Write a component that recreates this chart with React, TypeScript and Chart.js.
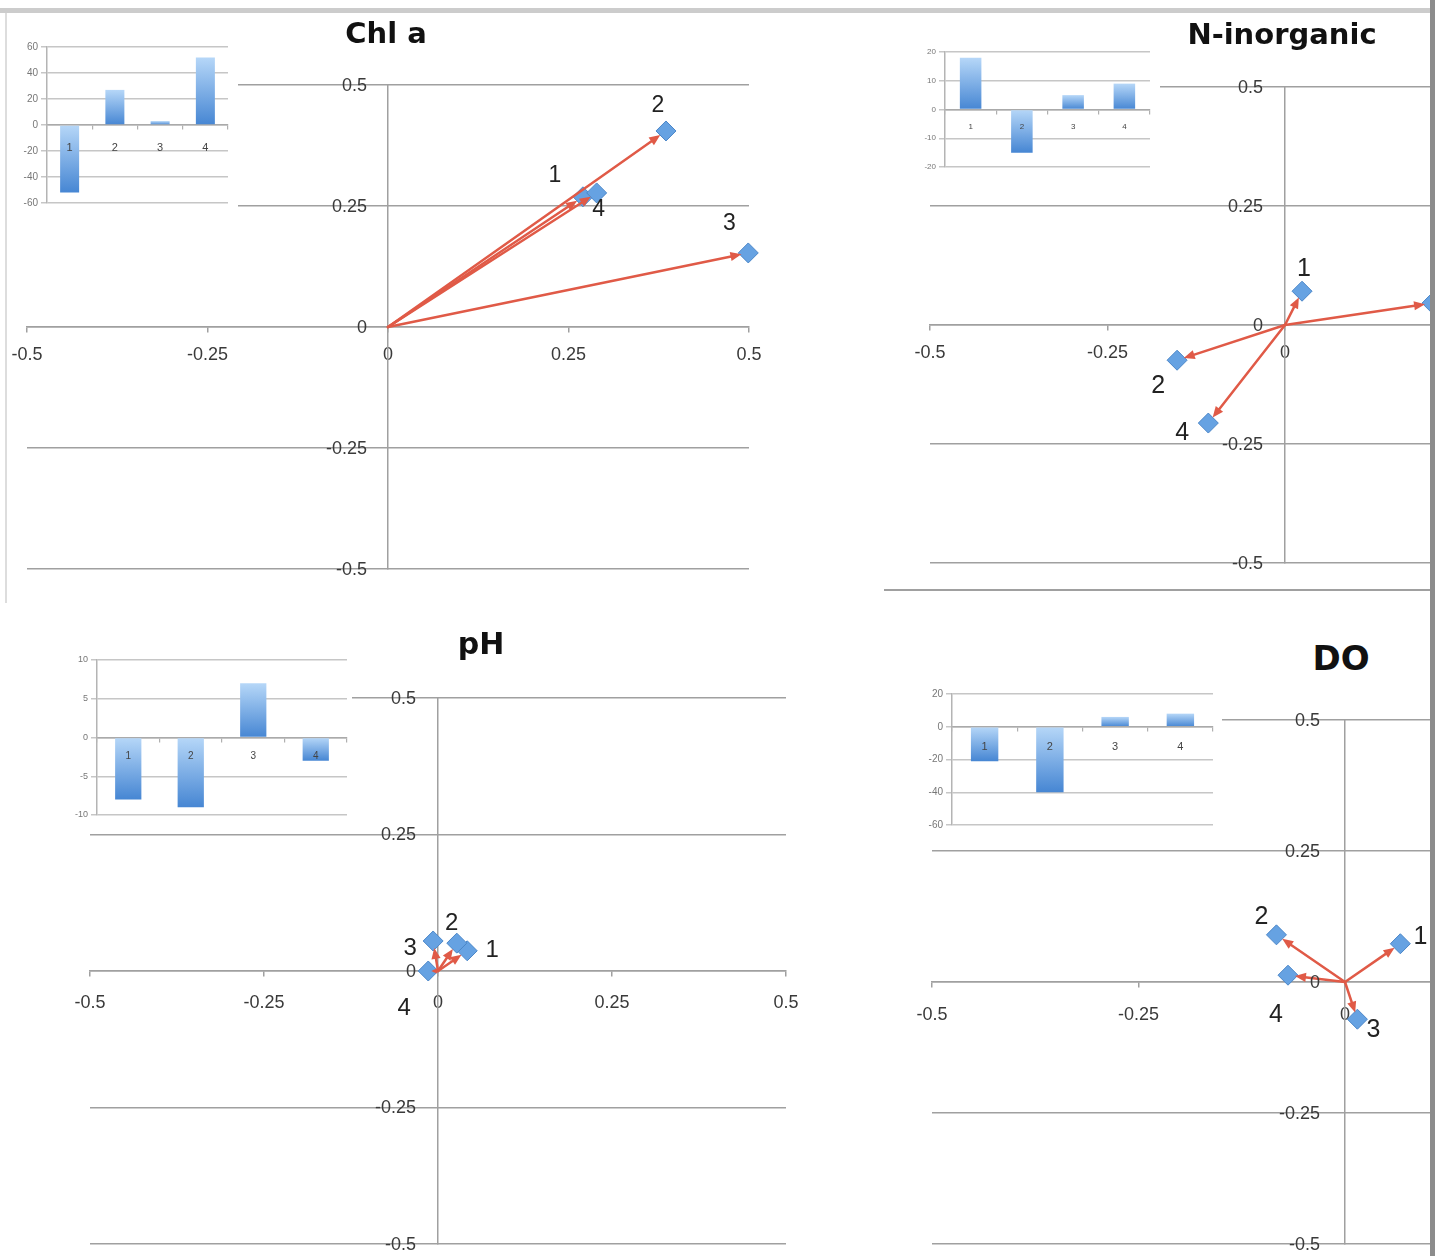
import React, { useEffect, useRef } from 'react';
import { Chart, registerables } from 'chart.js';
Chart.register(...registerables);

// ---------- data ----------
const pointLabels = ['1', '2', '3', '4'];
const barCategories = ['1', '2', '3', '4'];
const axisTicks = [-0.5, -0.25, 0, 0.25, 0.5];

const chlX = [0.27, 0.385, 0.499, 0.289];
const chlY = [0.269, 0.405, 0.153, 0.277];
const chlBars = [-52, 27, 3, 52];
const chlBarTicks = [-60, -40, -20, 0, 20, 40, 60];

const nX = [0.024, -0.152, 0.207, -0.108];
const nY = [0.071, -0.074, 0.046, -0.206];
const nBars = [18, -15, 5, 9];
const nBarTicks = [-20, -10, 0, 10, 20];

const phX = [0.042, 0.027, -0.007, -0.014];
const phY = [0.037, 0.051, 0.055, 0.0];
const phBars = [-8, -9, 7, -3];
const phBarTicks = [-10, -5, 0, 5, 10];

const doX = [0.067, -0.083, 0.015, -0.069];
const doY = [0.073, 0.09, -0.071, 0.013];
const doBars = [-21, -40, 6, 8];
const doBarTicks = [-60, -40, -20, 0, 20];

// ---------- styles ----------
const GRID = '#a0a0a0';
const ARROW = '#E05A47';
const TICK_FONT = 'Liberation Sans';
const TICK_COLOR = '#3a3a3a';

const chlLabelOffsets = [[-28, -21], [-8, -25], [-19, -29], [2, 17]];
const nLabelOffsets = [[2, -22], [-19, 26], [15, -25], [-26, 10]];
const phLabelOffsets = [[25, 0], [-5, -20], [-23, 7], [-24, 37]];
const doLabelOffsets = [[20, -7], [-15, -18], [16, 11], [-12, 40]];

const PAD = { l: 40, r: 40, t: 20, b: 40 };

const panels = [
  {
    key: 'chl', title: 'Chl a', titleX: 386, titleY: 33, titleSize: 29,
    xs: chlX, ys: chlY, offsets: chlLabelOffsets, labelSize: 23,
    area: { l: 27, r: 749, t: 85, b: 569 }, xPad: 12, yGap: 21,
    bars: chlBars, barTicks: chlBarTicks,
    box: { l: 0, t: 38, r: 238, b: 218 }, plot: { l: 47, t: 47, r: 228, b: 203 },
    yW: 40, barFont: 10, catFont: 11, catPad: 12,
  },
  {
    key: 'n', title: 'N-inorganic', titleX: 1282, titleY: 34, titleSize: 29,
    xs: nX, ys: nY, offsets: nLabelOffsets, labelSize: 25,
    area: { l: 930, r: 1640, t: 87, b: 563 }, xPad: 12, yGap: 22,
    bars: nBars, barTicks: nBarTicks,
    box: { l: 905, t: 40, r: 1160, b: 188 }, plot: { l: 945, t: 52, r: 1150, b: 167 },
    yW: 30, barFont: 8, catFont: 8, catPad: 8,
  },
  {
    key: 'ph', title: 'pH', titleX: 481, titleY: 644, titleSize: 30,
    xs: phX, ys: phY, offsets: phLabelOffsets, labelSize: 24,
    area: { l: 90, r: 786, t: 698, b: 1244 }, xPad: 16, yGap: 22,
    bars: phBars, barTicks: phBarTicks,
    box: { l: 55, t: 648, r: 352, b: 830 }, plot: { l: 97, t: 660, r: 347, b: 815 },
    yW: 32, barFont: 9, catFont: 10, catPad: 9,
  },
  {
    key: 'do', title: 'DO', titleX: 1341, titleY: 658, titleSize: 34,
    xs: doX, ys: doY, offsets: doLabelOffsets, labelSize: 25,
    area: { l: 932, r: 1758, t: 720, b: 1244 }, xPad: 17, yGap: 25,
    bars: doBars, barTicks: doBarTicks,
    box: { l: 912, t: 682, r: 1222, b: 846 }, plot: { l: 952, t: 694, r: 1213, b: 825 },
    yW: 32, barFont: 10, catFont: 11, catPad: 10,
  },
];

// ---------- plugins ----------
// y tick labels beside a value-positioned y axis (Chart.js ignores ticks.padding there)
const yAxisLabels = {
  id: 'yAxisLabels',
  afterDraw(chart: any, _args: any, opts: any) {
    const { ctx } = chart;
    const x = chart.scales.x, y = chart.scales.y;
    const ax = x.getPixelForValue(0);
    ctx.save();
    ctx.font = `18px "${TICK_FONT}", Arial, sans-serif`;
    ctx.fillStyle = TICK_COLOR;
    ctx.textAlign = 'right';
    ctx.textBaseline = 'middle';
    y.ticks.forEach((t: any) => {
      ctx.fillText(String(t.value), ax - opts.gap, y.getPixelForValue(t.value) + 1);
    });
    ctx.restore();
  },
};

const vecArrows = {
  id: 'vecArrows',
  afterDatasetsDraw(chart: any, _args: any, opts: any) {
    const { ctx } = chart;
    const x = chart.scales.x, y = chart.scales.y;
    const data = chart.data.datasets[0].data;
    const ox = x.getPixelForValue(0), oy = y.getPixelForValue(0);
    ctx.save();
    data.forEach((p: any) => {
      const px = x.getPixelForValue(p.x), py = y.getPixelForValue(p.y);
      const dx = px - ox, dy = py - oy;
      const len = Math.hypot(dx, dy);
      if (len < 2) return;
      const ux = dx / len, uy = dy / len;
      const back = Math.min(7, len * 0.3);
      const tx = px - ux * back, ty = py - uy * back;
      const head = Math.min(11, len * 0.6);
      const bx = tx - ux * head, by = ty - uy * head;
      ctx.strokeStyle = ARROW;
      ctx.lineWidth = 2.5;
      ctx.lineCap = 'round';
      ctx.beginPath();
      ctx.moveTo(ox, oy);
      ctx.lineTo(tx - ux * head * 0.5, ty - uy * head * 0.5);
      ctx.stroke();
      const w = head * 0.42;
      ctx.fillStyle = ARROW;
      ctx.beginPath();
      ctx.moveTo(tx, ty);
      ctx.lineTo(bx - uy * w, by + ux * w);
      ctx.lineTo(bx + uy * w, by - ux * w);
      ctx.closePath();
      ctx.fill();
    });
    ctx.font = `${opts.labelSize}px "Liberation Sans", Arial, sans-serif`;
    ctx.fillStyle = '#222';
    ctx.textAlign = 'center';
    ctx.textBaseline = 'middle';
    data.forEach((p: any, i: number) => {
      const px = x.getPixelForValue(p.x), py = y.getPixelForValue(p.y);
      const off = opts.offsets[i];
      ctx.fillText(opts.labels[i], px + off[0], py + off[1]);
    });
    ctx.restore();
  },
};

const barGradient = (c: any) => {
  const chart = c.chart;
  const ys = chart.scales && chart.scales.y;
  if (!chart.chartArea || !ys || typeof c.raw !== 'number') return '#6aa6e6';
  const v = c.raw as number;
  const top = ys.getPixelForValue(Math.max(v, 0));
  const bot = ys.getPixelForValue(Math.min(v, 0));
  if (!isFinite(top) || !isFinite(bot) || Math.abs(bot - top) < 1) return '#6aa6e6';
  const g = chart.ctx.createLinearGradient(0, top, 0, bot);
  g.addColorStop(0, '#b6d7f8');
  g.addColorStop(1, '#4686d3');
  return g;
};

function scatterConfig(p: any) {
  return {
    type: 'scatter',
    data: {
      datasets: [{
        data: p.xs.map((v: number, i: number) => ({ x: v, y: p.ys[i] })),
        pointStyle: 'rectRot',
        pointRadius: 10,
        backgroundColor: '#66A2E2',
        borderColor: '#4B86C8',
        borderWidth: 1,
        clip: false,
      }],
    },
    plugins: [vecArrows, yAxisLabels],
    options: {
      animation: false,
      responsive: false,
      events: [],
      layout: { padding: { left: PAD.l, right: PAD.r, top: PAD.t, bottom: PAD.b } },
      plugins: {
        legend: { display: false },
        tooltip: { enabled: false },
        vecArrows: { labels: pointLabels, offsets: p.offsets, labelSize: p.labelSize },
        yAxisLabels: { gap: p.yGap },
      },
      scales: {
        x: {
          type: 'linear', position: { y: 0 }, min: -0.5, max: 0.5,
          afterBuildTicks: (s: any) => { s.ticks = axisTicks.map((v) => ({ value: v })); },
          ticks: {
            callback: (v: any) => String(v), autoSkip: false, maxRotation: 0,
            font: { family: TICK_FONT, size: 18 }, color: TICK_COLOR, padding: p.xPad,
          },
          grid: { display: true, drawOnChartArea: false, drawTicks: true, tickLength: 5, color: GRID, lineWidth: 1.5 },
          border: { display: true, color: GRID, width: 1.5 },
        },
        y: {
          type: 'linear', position: { x: 0 }, min: -0.5, max: 0.5,
          afterBuildTicks: (s: any) => { s.ticks = axisTicks.map((v) => ({ value: v })); },
          ticks: { display: false, padding: 0 },
          grid: { display: true, drawTicks: false, color: GRID, lineWidth: 1.5 },
          border: { display: true, color: GRID, width: 1.5 },
        },
      },
    },
  };
}

function barConfig(p: any) {
  const ticks = p.barTicks as number[];
  return {
    type: 'bar',
    data: {
      labels: barCategories,
      datasets: [{
        data: p.bars,
        backgroundColor: barGradient,
        borderWidth: 0,
        barPercentage: 0.42,
        categoryPercentage: 1,
      }],
    },
    options: {
      animation: false,
      responsive: false,
      events: [],
      layout: {
        padding: {
          left: p.plot.l - p.box.l - p.yW,
          right: p.box.r - p.plot.r,
          top: p.plot.t - p.box.t,
          bottom: p.box.b - p.plot.b,
        },
      },
      plugins: { legend: { display: false }, tooltip: { enabled: false } },
      scales: {
        x: {
          type: 'category', position: { y: 0 },
          ticks: { z: 1, font: { family: TICK_FONT, size: p.catFont }, color: '#444', padding: p.catPad, maxRotation: 0, autoSkip: false },
          grid: { display: true, drawOnChartArea: false, drawTicks: true, tickLength: 4, offset: true, color: '#b0b0b0', lineWidth: 1.2 },
          border: { display: true, color: '#aaaaaa', width: 1.5 },
        },
        y: {
          type: 'linear', min: ticks[0], max: ticks[ticks.length - 1],
          afterBuildTicks: (s: any) => { s.ticks = ticks.map((v) => ({ value: v })); },
          afterFit: (s: any) => { s.width = p.yW; },
          ticks: { font: { family: TICK_FONT, size: p.barFont }, color: '#777', padding: 3, autoSkip: false },
          grid: { display: true, color: '#c6c6c6', lineWidth: 1.5, drawTicks: true, tickLength: 6 },
          border: { display: true, color: '#b4b4b4', width: 1.5 },
        },
      },
    },
  };
}

function ChartCanvas({ left, top, width, height, make, bg }: any) {
  const ref = useRef<HTMLCanvasElement>(null);
  useEffect(() => {
    const chart = new Chart(ref.current as HTMLCanvasElement, make() as any);
    return () => chart.destroy();
  }, []);
  return (
    <canvas
      ref={ref}
      width={width}
      height={height}
      style={{ position: 'absolute', left, top, width, height, background: bg || 'transparent' }}
    />
  );
}

export default function App() {
  return (
    <div style={{ position: 'absolute', left: 0, top: 0, width: 1435, height: 1256, overflow: 'hidden', background: '#fff' }}>
      {panels.map((p) => {
        const cl = p.area.l - PAD.l, ct = p.area.t - PAD.t;
        const cw = p.area.r - p.area.l + PAD.l + PAD.r;
        const ch = p.area.b - p.area.t + PAD.t + PAD.b;
        return (
          <React.Fragment key={p.key}>
            <ChartCanvas left={cl} top={ct} width={cw} height={ch} make={() => scatterConfig(p)} />
            <ChartCanvas
              left={p.box.l} top={p.box.t}
              width={p.box.r - p.box.l} height={p.box.b - p.box.t}
              make={() => barConfig(p)} bg="#fff"
            />
            <div
              style={{
                position: 'absolute', left: p.titleX - 200, top: p.titleY - p.titleSize * 0.6,
                width: 400, textAlign: 'center', fontFamily: '"DejaVu Sans", sans-serif',
                fontWeight: 'bold', fontSize: p.titleSize, lineHeight: `${p.titleSize * 1.2}px`, color: '#111',
              }}
            >
              {p.title}
            </div>
          </React.Fragment>
        );
      })}
      <div style={{ position: 'absolute', left: 0, top: 8, width: 1430, height: 5, background: '#cccccc' }} />
      <div style={{ position: 'absolute', left: 5, top: 13, width: 2, height: 590, background: '#dddddd' }} />
      <div style={{ position: 'absolute', left: 884, top: 589, width: 546, height: 2, background: '#a0a0a0' }} />
      <div style={{ position: 'absolute', left: 1430, top: 0, width: 5, height: 1256, background: '#8c8c8c' }} />
    </div>
  );
}
